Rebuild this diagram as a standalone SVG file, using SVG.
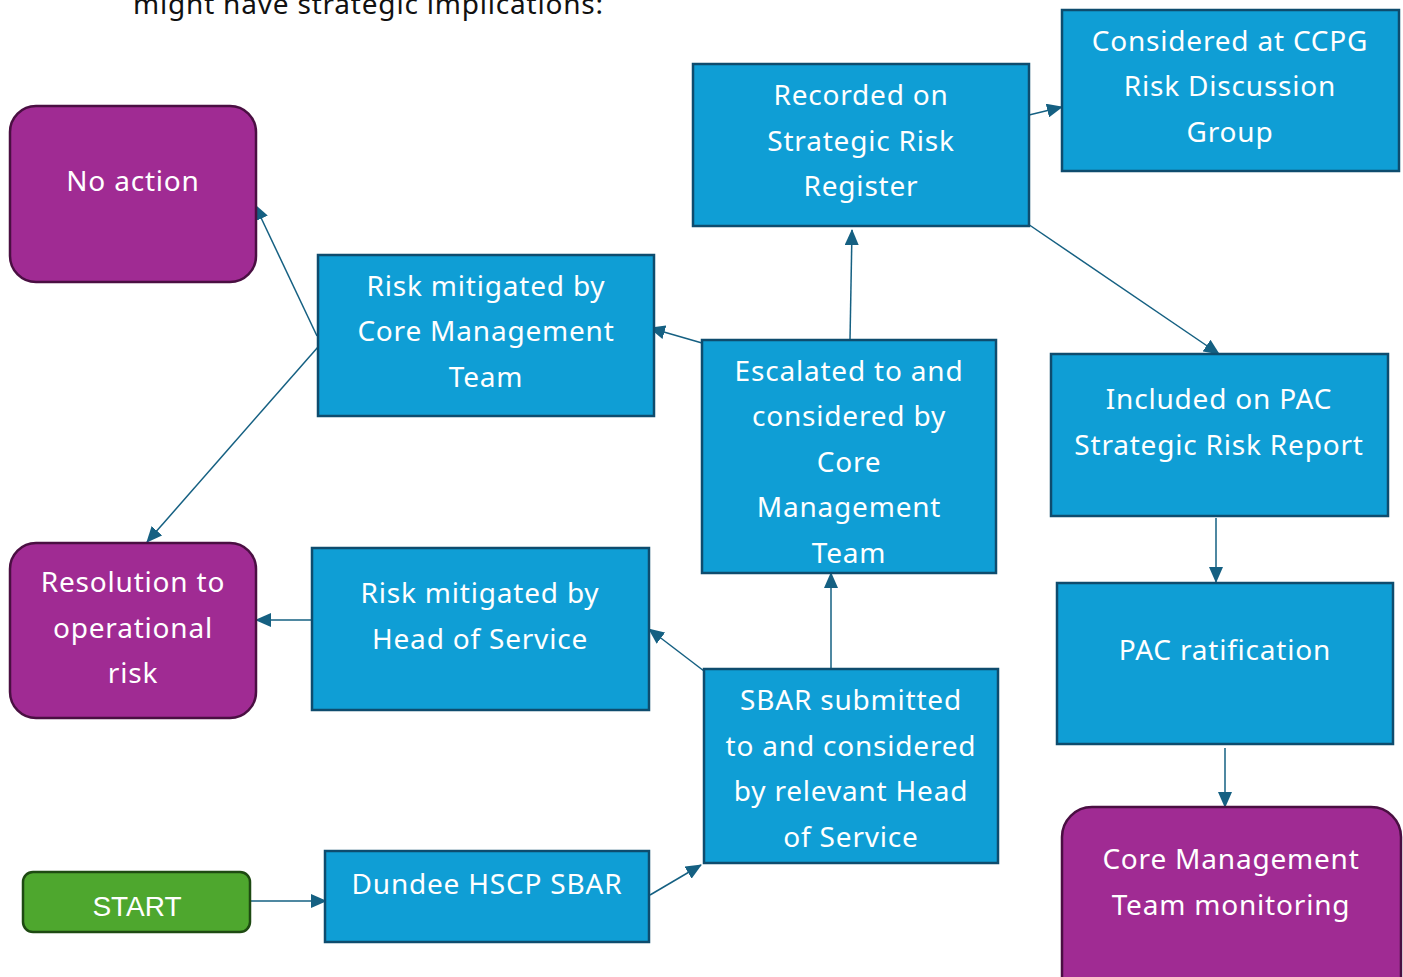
<svg xmlns="http://www.w3.org/2000/svg" width="1403" height="977" viewBox="0 0 1403 977">
<style>
.box{fill:#0F9ED5;stroke:#0E4C6E;stroke-width:2.5}
.term{fill:#A02B93;stroke:#4A0F42;stroke-width:2.5}
.start{fill:#4EA72E;stroke:#1E4A12;stroke-width:2.5}
.t{font-family:"Noto Sans","Open Sans","Liberation Sans",sans-serif;font-size:28px;letter-spacing:0.8px;fill:#ffffff;text-anchor:middle}
.ts{font-family:"Liberation Sans",Arial,sans-serif;font-size:28px;fill:#ffffff;text-anchor:middle}
.hdr{font-family:"Noto Sans","Open Sans","Liberation Sans",sans-serif;font-size:28px;letter-spacing:0.8px;fill:#111111}
.c{stroke:#156082;stroke-width:1.5;fill:none;marker-end:url(#ah)}
</style>
<defs>
<marker id="ah" markerUnits="userSpaceOnUse" markerWidth="16" markerHeight="14" refX="15" refY="7" orient="auto">
<path d="M0,0 L16,7 L0,14 Z" fill="#156082"/>
</marker>
</defs>
<rect width="1403" height="977" fill="#ffffff"/>
<text class="hdr" x="133" y="14">might have strategic implications:</text>

<g id="connectors">
<line class="c" x1="250" y1="901" x2="326" y2="901"/>
<line class="c" x1="650" y1="895" x2="701" y2="865"/>
<line class="c" x1="704" y1="671" x2="649" y2="629"/>
<line class="c" x1="831" y1="668" x2="831" y2="573"/>
<line class="c" x1="312" y1="620" x2="256" y2="620"/>
<line class="c" x1="702" y1="343" x2="650" y2="328"/>
<line class="c" x1="850" y1="340" x2="852" y2="230"/>
<line class="c" x1="317" y1="336" x2="255" y2="205"/>
<line class="c" x1="318" y1="347" x2="147" y2="542"/>
<line class="c" x1="1029" y1="115" x2="1062" y2="107"/>
<line class="c" x1="1025" y1="222" x2="1219" y2="354"/>
<line class="c" x1="1216" y1="518" x2="1216" y2="582"/>
<line class="c" x1="1225" y1="748" x2="1225" y2="807"/>
</g>

<g id="no-action">
<rect class="term" x="10" y="106" width="246" height="176" rx="26"/>
<text class="t" x="133" y="191">No action</text>
</g>
<g id="resolution">
<rect class="term" x="10" y="543" width="246" height="175" rx="26"/>
<text class="t" x="133" y="592">Resolution to</text>
<text class="t" x="133" y="638">operational</text>
<text class="t" x="133" y="683">risk</text>
</g>
<g id="start">
<rect class="start" x="23" y="872" width="227" height="60" rx="10"/>
<text class="ts" x="137" y="916">START</text>
</g>
<g id="risk-cmt">
<rect class="box" x="318" y="255" width="336" height="161"/>
<text class="t" x="486" y="296">Risk mitigated by</text>
<text class="t" x="486" y="341">Core Management</text>
<text class="t" x="486" y="387">Team</text>
</g>
<g id="risk-hos">
<rect class="box" x="312" y="548" width="337" height="162"/>
<text class="t" x="480" y="603">Risk mitigated by</text>
<text class="t" x="480" y="649">Head of Service</text>
</g>
<g id="dundee-sbar">
<rect class="box" x="325" y="851" width="324" height="91"/>
<text class="t" x="487" y="894">Dundee HSCP SBAR</text>
</g>
<g id="recorded">
<rect class="box" x="693" y="64" width="336" height="162"/>
<text class="t" x="861" y="105">Recorded on</text>
<text class="t" x="861" y="151">Strategic Risk</text>
<text class="t" x="861" y="196">Register</text>
</g>
<g id="escalated">
<rect class="box" x="702" y="340" width="294" height="233"/>
<text class="t" x="849" y="381">Escalated to and</text>
<text class="t" x="849" y="426">considered by</text>
<text class="t" x="849" y="472">Core</text>
<text class="t" x="849" y="517">Management</text>
<text class="t" x="849" y="563">Team</text>
</g>
<g id="sbar-submitted">
<rect class="box" x="704" y="669" width="294" height="194"/>
<text class="t" x="851" y="710">SBAR submitted</text>
<text class="t" x="851" y="756">to and considered</text>
<text class="t" x="851" y="801">by relevant Head</text>
<text class="t" x="851" y="847">of Service</text>
</g>
<g id="ccpg">
<rect class="box" x="1062" y="10" width="337" height="161"/>
<text class="t" x="1230" y="51">Considered at CCPG</text>
<text class="t" x="1230" y="96">Risk Discussion</text>
<text class="t" x="1230" y="142">Group</text>
</g>
<g id="pac-report">
<rect class="box" x="1051" y="354" width="337" height="162"/>
<text class="t" x="1219" y="409">Included on PAC</text>
<text class="t" x="1219" y="455">Strategic Risk Report</text>
</g>
<g id="pac-ratification">
<rect class="box" x="1057" y="583" width="336" height="161"/>
<text class="t" x="1225" y="660">PAC ratification</text>
</g>
<g id="cmt-monitoring">
<rect class="term" x="1062" y="807" width="339" height="200" rx="30"/>
<text class="t" x="1231" y="869">Core Management</text>
<text class="t" x="1231" y="915">Team monitoring</text>
</g>
</svg>
